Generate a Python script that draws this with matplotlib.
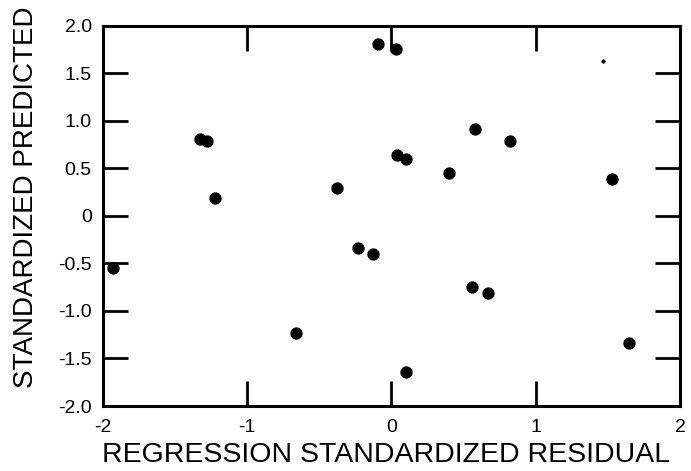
import numpy as np
import matplotlib.pyplot as plt

plt.rcParams['font.family'] = ['Liberation Sans', 'DejaVu Sans']

# residuals (x) and predicted values (y)
resid = [-1.93, -1.33, -1.28, -1.22, -0.38, -0.09, 0.03, 0.58, 0.82, 0.04,
         0.10, 0.40, 1.53, -0.23, -0.125, 0.56, 0.67, 1.65, 0.10, -0.66]
pred = [-0.55, 0.81, 0.79, 0.19, 0.29, 1.81, 1.76, 0.92, 0.79, 0.64,
        0.60, 0.45, 0.39, -0.34, -0.40, -0.75, -0.81, -1.34, -1.64, -1.23]

# small speck in the scan
speck_x = [1.47]
speck_y = [1.63]

xticks = [-2, -1, 0, 1, 2]
xlabels = ['-2', '-1', '0', '1', '2']
yticks = [2.0, 1.5, 1.0, 0.5, 0, -0.5, -1.0, -1.5, -2.0]
ylabels = ['2.0', '1.5', '1.0', '0.5', '0', '-0.5', '-1.0', '-1.5', '-2.0']

fig = plt.figure(figsize=(6.91, 4.71), dpi=100)
ax = fig.add_axes([0.149, 0.138, 0.835, 0.807])

ax.scatter(resid, pred, s=62, color='black', zorder=3)
ax.scatter(speck_x, speck_y, s=4, color='black', zorder=3)

ax.set_xlim(-2, 2)
ax.set_ylim(-2, 2)
ax.set_xticks(xticks)
ax.set_xticklabels(xlabels)
ax.set_yticks(yticks)
ax.set_yticklabels(ylabels)

ax.tick_params(direction='in', top=True, right=True, length=18, width=2,
               labelsize=14)
ax.tick_params(axis='x', pad=9)
ax.tick_params(axis='y', pad=8)
for sp in ax.spines.values():
    sp.set_linewidth(2.2)

ax.set_xlabel('REGRESSION STANDARDIZED RESIDUAL', fontsize=20.5)
ax.set_ylabel('STANDARDIZED PREDICTED', fontsize=20)
ax.xaxis.set_label_coords(0.49, -0.095)
ax.yaxis.set_label_coords(-0.11, 0.55)

fig.savefig('out.png', dpi=100)
